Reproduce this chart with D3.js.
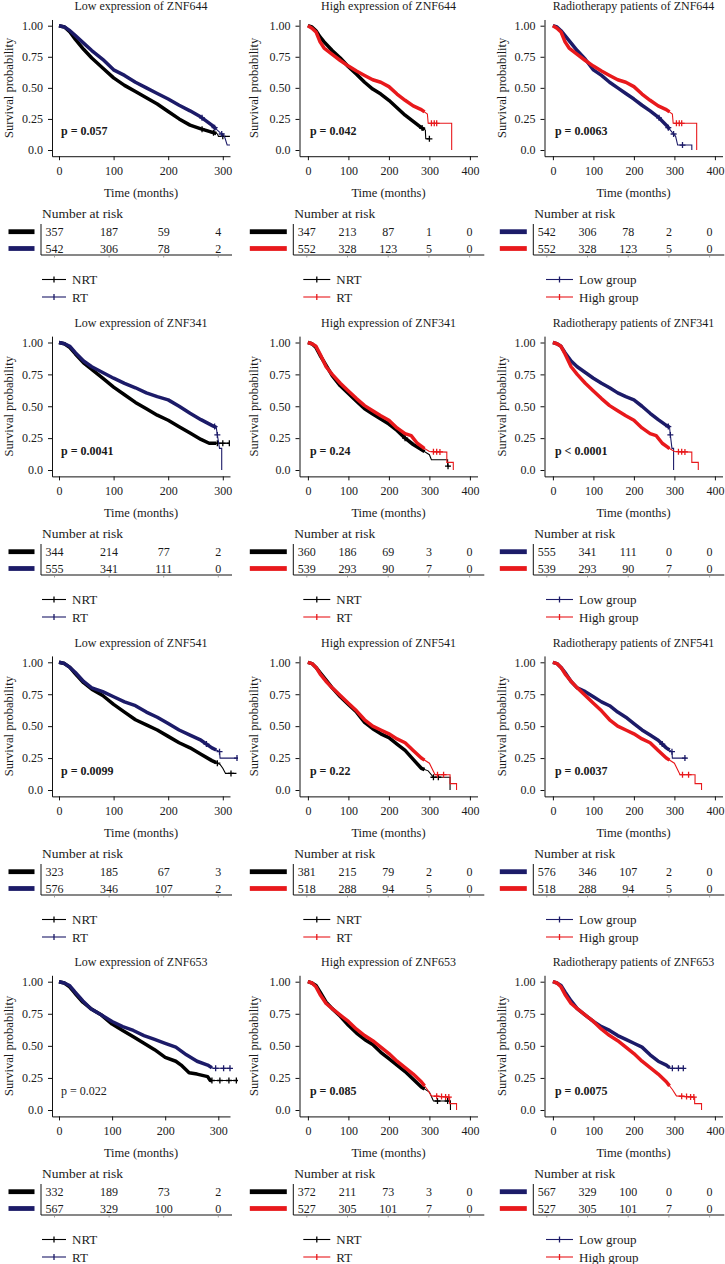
<!DOCTYPE html>
<html>
<head>
<meta charset="utf-8">
<script src="https://cdn.jsdelivr.net/npm/d3@7"></script>
<style>
  body { margin: 0; background: #fff; }
  svg text { font-family: "Liberation Serif", "Times New Roman", serif; fill: #1a1a1a; }
</style>
</head>
<body>
<svg id="chart" width="725" height="1264"></svg>
<script>
// ---- data ----
var genes = ["ZNF644", "ZNF341", "ZNF541", "ZNF653"];
var pLow = ["p = 0.057", "p = 0.0041", "p = 0.0099", "p = 0.022"];
var pHigh = ["p = 0.042", "p = 0.24", "p = 0.22", "p = 0.085"];
var pRadio = ["p = 0.0063", "p < 0.0001", "p = 0.0037", "p = 0.0075"];
var ticksLow = [0, 100, 200, 300];
var ticksWide = [0, 100, 200, 300, 400];

// ZNF644
var z644LowNRT = [[0,1],[10,0.99],[20,0.95],[30,0.89],[45,0.81],[60,0.74],[80,0.66],[100,0.58],[120,0.52],[140,0.47],[160,0.42],[180,0.37],[200,0.31],[220,0.25],[240,0.20],[260,0.17],[275,0.15],[290,0.13],[292,0.11],[313,0.11]];
var z644LowRT = [[0,1],[10,0.99],[20,0.96],[30,0.92],[45,0.86],[60,0.80],[80,0.73],[100,0.645],[120,0.60],[140,0.545],[160,0.50],[180,0.455],[200,0.41],[220,0.36],[240,0.315],[260,0.265],[280,0.20],[295,0.14],[303,0.11],[308,0.04],[343,0.04],[343,0]];
var z644HighNRT = [[0,1],[10,0.99],[20,0.96],[30,0.91],[40,0.87],[60,0.80],[80,0.74],[100,0.67],[120,0.61],[140,0.545],[160,0.49],[180,0.45],[200,0.40],[220,0.34],[240,0.28],[260,0.23],[280,0.18],[290,0.16],[291,0.09],[300,0.09]];
var z644HighRT = [[0,1],[10,0.98],[20,0.95],[30,0.87],[40,0.82],[60,0.77],[80,0.72],[100,0.675],[120,0.635],[140,0.60],[160,0.565],[180,0.545],[200,0.51],[220,0.45],[240,0.40],[260,0.355],[280,0.325],[295,0.29],[297,0.215],[355,0.215],[355,0]];
var c644LowNRT = [262, 283, 300], c644LowRT = [262, 285, 298, 320], c644HighNRT = [282, 300], c644HighRT = [305, 312, 318];

// ZNF341
var z341LowNRT = [[0,1],[10,0.99],[20,0.96],[30,0.91],[45,0.84],[60,0.79],[80,0.72],[100,0.65],[120,0.59],[140,0.53],[160,0.48],[180,0.43],[200,0.39],[220,0.34],[240,0.29],[260,0.24],[275,0.21],[313,0.21]];
var z341LowRT = [[0,1],[10,0.99],[20,0.97],[30,0.92],[45,0.855],[60,0.81],[80,0.765],[100,0.72],[120,0.68],[140,0.645],[160,0.605],[180,0.575],[200,0.55],[220,0.50],[240,0.445],[260,0.395],[280,0.35],[288,0.335],[290,0.275],[294,0.17],[298,0.17],[298,0]];
var z341HighNRT = [[0,1],[10,0.99],[20,0.96],[30,0.90],[45,0.82],[60,0.74],[80,0.66],[100,0.60],[120,0.54],[140,0.48],[160,0.44],[180,0.40],[200,0.36],[220,0.31],[240,0.25],[260,0.20],[280,0.16],[300,0.12],[305,0.08],[345,0.08],[345,0.03],[350,0.03]];
var z341HighRT = [[0,1],[10,0.99],[20,0.97],[30,0.91],[45,0.81],[60,0.75],[80,0.68],[100,0.62],[120,0.56],[140,0.505],[160,0.465],[180,0.425],[200,0.39],[220,0.33],[240,0.285],[255,0.27],[270,0.21],[285,0.175],[300,0.145],[343,0.14],[343,0.06],[359,0.06],[359,0]];
var c341LowNRT = [290, 300, 312], c341LowRT = [285, 290], c341HighNRT = [240, 346], c341HighRT = [310, 318, 326];

// ZNF541
var z541LowNRT = [[0,1],[10,0.99],[20,0.96],[30,0.91],[45,0.84],[60,0.79],[80,0.74],[100,0.67],[120,0.61],[140,0.55],[160,0.51],[180,0.47],[200,0.42],[220,0.37],[240,0.33],[260,0.28],[280,0.23],[295,0.20],[300,0.17],[305,0.13],[325,0.13]];
var z541LowRT = [[0,1],[10,0.99],[20,0.96],[30,0.92],[45,0.85],[60,0.80],[80,0.77],[100,0.73],[120,0.69],[140,0.66],[160,0.61],[180,0.57],[200,0.52],[220,0.47],[240,0.43],[260,0.39],[280,0.33],[294,0.30],[295,0.25],[330,0.25]];
var z541HighNRT = [[0,1],[10,0.99],[20,0.96],[30,0.92],[45,0.86],[60,0.80],[80,0.73],[100,0.67],[120,0.61],[140,0.53],[160,0.48],[180,0.44],[200,0.41],[220,0.36],[240,0.31],[260,0.24],[280,0.17],[297,0.15],[310,0.10],[351,0.10],[351,0]];
var z541HighRT = [[0,1],[10,0.99],[20,0.96],[30,0.91],[45,0.85],[60,0.80],[80,0.74],[100,0.68],[120,0.62],[140,0.55],[160,0.50],[180,0.47],[200,0.44],[220,0.40],[240,0.37],[260,0.31],[280,0.25],[300,0.21],[314,0.12],[351,0.12],[351,0.05],[367,0.05],[367,0]];
var c541LowNRT = [290, 315], c541LowRT = [270, 294, 326], c541HighNRT = [310, 322], c541HighRT = [320, 335];

// ZNF653
var z653LowNRT = [[0,1],[10,0.99],[20,0.96],[30,0.91],[45,0.84],[60,0.79],[80,0.74],[100,0.67],[120,0.62],[140,0.57],[160,0.52],[180,0.47],[200,0.41],[220,0.38],[230,0.35],[245,0.29],[260,0.28],[280,0.26],[285,0.23],[336,0.23]];
var z653LowRT = [[0,1],[10,0.99],[20,0.97],[30,0.92],[45,0.85],[60,0.79],[80,0.74],[100,0.69],[120,0.65],[140,0.62],[160,0.58],[180,0.55],[200,0.52],[220,0.49],[240,0.43],[260,0.38],[280,0.35],[290,0.325],[322,0.325]];
var z653HighNRT = [[0,1],[10,0.99],[20,0.97],[30,0.92],[45,0.84],[60,0.79],[80,0.73],[100,0.66],[120,0.60],[140,0.55],[160,0.51],[180,0.45],[200,0.40],[220,0.35],[240,0.30],[260,0.24],[280,0.18],[300,0.14],[310,0.07],[352,0.07],[352,0]];
var z653HighRT = [[0,1],[10,0.99],[20,0.96],[30,0.90],[45,0.83],[60,0.79],[80,0.74],[100,0.69],[120,0.63],[140,0.58],[160,0.54],[180,0.49],[200,0.44],[220,0.38],[240,0.33],[260,0.28],[280,0.22],[295,0.16],[305,0.11],[350,0.10],[350,0.05],[367,0.05],[367,0]];
var c653LowNRT = [288, 303, 320, 334], c653LowRT = [295, 310, 322], c653HighNRT = [320, 345], c653HighRT = [318, 330, 340, 348];

// number at risk
var r644LowNRT = [357, 187, 59, 4], r644LowRT = [542, 306, 78, 2, 0], r644HighNRT = [347, 213, 87, 1, 0], r644HighRT = [552, 328, 123, 5, 0];
var r341LowNRT = [344, 214, 77, 2], r341LowRT = [555, 341, 111, 0, 0], r341HighNRT = [360, 186, 69, 3, 0], r341HighRT = [539, 293, 90, 7, 0];
var r541LowNRT = [323, 185, 67, 3], r541LowRT = [576, 346, 107, 2, 0], r541HighNRT = [381, 215, 79, 2, 0], r541HighRT = [518, 288, 94, 5, 0];
var r653LowNRT = [332, 189, 73, 2], r653LowRT = [567, 329, 100, 0, 0], r653HighNRT = [372, 211, 73, 3, 0], r653HighRT = [527, 305, 101, 7, 0];

// ---- layout ----
var BLACK = "#000000", NAVY = "#1c1b68", RED = "#e8191c";
var rowTop = [25.7, 342.5, 662.3, 981.7];     // y of 1.00
var rowBot = [150, 470, 790, 1110];           // y of 0.0
var colX = [52, 299.5, 544.5];                // y-axis line
var plotW = 178;
var zeroOff = [7, 8.4, 8.4];
var col1Rate = [0.546, 0.546, 0.546, 0.531];  // px per month, left column
var col1Clip = [178, 178, 186, 186];          // how far the left-column curves run
var wideRate = 0.405;
var tableLine = [41, 293.3, 533.3];
var barW = [26, 37, 27];
var legX = [42, 303.3, 546];
var legW = [24, 27, 27];
var DENSE_END = 288;

var svg = d3.select("#chart");

var rows = [
  {lowNRT: z644LowNRT, lowRT: z644LowRT, highNRT: z644HighNRT, highRT: z644HighRT,
   cLowNRT: c644LowNRT, cLowRT: c644LowRT, cHighNRT: c644HighNRT, cHighRT: c644HighRT,
   rLowNRT: r644LowNRT, rLowRT: r644LowRT, rHighNRT: r644HighNRT, rHighRT: r644HighRT},
  {lowNRT: z341LowNRT, lowRT: z341LowRT, highNRT: z341HighNRT, highRT: z341HighRT,
   cLowNRT: c341LowNRT, cLowRT: c341LowRT, cHighNRT: c341HighNRT, cHighRT: c341HighRT,
   rLowNRT: r341LowNRT, rLowRT: r341LowRT, rHighNRT: r341HighNRT, rHighRT: r341HighRT},
  {lowNRT: z541LowNRT, lowRT: z541LowRT, highNRT: z541HighNRT, highRT: z541HighRT,
   cLowNRT: c541LowNRT, cLowRT: c541LowRT, cHighNRT: c541HighNRT, cHighRT: c541HighRT,
   rLowNRT: r541LowNRT, rLowRT: r541LowRT, rHighNRT: r541HighNRT, rHighRT: r541HighRT},
  {lowNRT: z653LowNRT, lowRT: z653LowRT, highNRT: z653HighNRT, highRT: z653HighRT,
   cLowNRT: c653LowNRT, cLowRT: c653LowRT, cHighNRT: c653HighNRT, cHighRT: c653HighRT,
   rLowNRT: r653LowNRT, rLowRT: r653LowRT, rHighNRT: r653HighNRT, rHighRT: r653HighRT}
];

// value of the drawn polyline at time t
function survAt(curve, t) {
  for (var i = curve.length - 1; i > 0; i--) {
    var a = curve[i - 1], b = curve[i];
    if (t >= a[0] && t <= b[0]) {
      if (b[0] === a[0]) return b[1];
      return a[1] + (b[1] - a[1]) * (t - a[0]) / (b[0] - a[0]);
    }
  }
  return curve[curve.length - 1][1];
}

// part of the curve where the censor marks sit so tight they read as a thick band
function denseRun(curve) {
  var out = [];
  for (var i = 0; i < curve.length; i++) {
    if (curve[i][0] > DENSE_END) break;
    if (i > 0 && curve[i][0] === curve[i - 1][0]) break;   // stop before a vertical drop
    out.push(curve[i]);
  }
  var last = out[out.length - 1];
  if (last[0] < DENSE_END && out.length < curve.length && curve[out.length][0] !== last[0]) {
    out.push([DENSE_END, survAt(curve, DENSE_END)]);
  }
  return out;
}

function drawPanel(row, col, title, pText, strata) {
  var y0 = rowBot[row], y1 = rowTop[row], h = y0 - y1;
  var rate = col === 0 ? col1Rate[row] : wideRate;
  var ax = colX[col];

  var x = d3.scaleLinear()
      .domain([-zeroOff[col] / rate, (plotW - zeroOff[col]) / rate])
      .range([ax, ax + plotW]);
  var y = d3.scaleLinear()
      .domain([-0.05, 1.05])
      .range([y0 + 0.05 * h, y1 - 0.05 * h]);

  var g = svg.append("g");

  g.append("text")
      .attr("x", ax + 89).attr("y", y1 - 19.5)
      .attr("text-anchor", "middle").attr("dominant-baseline", "central")
      .attr("font-size", 12).text(title);

  var xa = g.append("g")
      .attr("transform", "translate(0," + y(-0.05) + ")")
      .call(d3.axisBottom(x).tickValues(col === 0 ? ticksLow : ticksWide)
        .tickSize(4).tickSizeOuter(0).tickPadding(6));
  var ya = g.append("g")
      .attr("transform", "translate(" + ax + ",0)")
      .call(d3.axisLeft(y).tickValues([0, 0.25, 0.5, 0.75, 1])
        .tickFormat(function(d) { return d === 0 ? "0.0" : d3.format(".2f")(d); })
        .tickSize(4).tickSizeOuter(0).tickPadding(5));
  [xa, ya].forEach(function(a) {
    a.attr("font-size", 12).attr("font-family", null);
    a.selectAll("path, line").attr("stroke", "#111");
    a.selectAll("text").attr("fill", "#222");
  });

  g.append("text")
      .attr("transform", "translate(" + (ax - (col === 1 ? 46 : 43)) + "," + ((y0 + y1) / 2) + ") rotate(-90)")
      .attr("text-anchor", "middle").attr("dominant-baseline", "central")
      .attr("font-size", 12.5).text("Survival probability");

  g.append("text")
      .attr("x", ax + 89).attr("y", y0 + 43)
      .attr("text-anchor", "middle").attr("dominant-baseline", "central")
      .attr("font-size", 12.5).text("Time (months)");

  // curves
  var clipId = "clip" + row + "_" + col;
  g.append("clipPath").attr("id", clipId).append("rect")
      .attr("x", ax - 10).attr("y", y1 - 20)
      .attr("width", (col === 0 ? col1Clip[row] : 200) + 10).attr("height", h + 40);
  var cg = g.append("g").attr("clip-path", "url(#" + clipId + ")");
  var line = d3.line().x(function(d) { return x(d[0]); }).y(function(d) { return y(d[1]); });

  strata.forEach(function(s) {
    cg.append("path").datum(s.curve).attr("d", line)
        .attr("fill", "none").attr("stroke", s.color).attr("stroke-width", 1.1);
    cg.append("path").datum(denseRun(s.curve))
        .attr("d", line)
        .attr("fill", "none").attr("stroke", s.color).attr("stroke-width", 3.5)
        .attr("stroke-linejoin", "round");
    cg.selectAll(null).data(s.cens).enter().append("path")
        .attr("d", function(t) {
          var px = x(t), py = y(survAt(s.curve, t));
          return "M" + (px - 3) + "," + py + "H" + (px + 3) + "M" + px + "," + (py - 3) + "V" + (py + 3);
        })
        .attr("stroke", s.color).attr("stroke-width", 1.3);
  });

  // p-value (the low ZNF653 panel prints it in regular weight)
  g.append("text")
      .attr("x", x(0) + 2).attr("y", y(0.15))
      .attr("dominant-baseline", "central")
      .attr("font-size", 12)
      .attr("font-weight", (row === 3 && col === 0) ? "normal" : "bold")
      .text(pText);

  // number at risk table
  var tl = tableLine[col];
  var times = col === 0 ? ticksLow : ticksWide;
  var tx = d3.scaleLinear().domain([0, 100]).range([tl + 13.5, tl + 13.5 + 100 * (col === 0 ? 0.546 : 0.407)]);
  g.append("text")
      .attr("x", tl + 1).attr("y", y0 + 63.5)
      .attr("dominant-baseline", "central")
      .attr("font-size", 13.5).text("Number at risk");
  var rowY = [y0 + 81.7, y0 + 98.5];
  strata.forEach(function(s, i) {
    g.append("rect")
        .attr("x", tl - 6.5 - barW[col]).attr("y", rowY[i] - 2.4)
        .attr("width", barW[col]).attr("height", 4.8)
        .attr("fill", s.color);
    g.selectAll(null).data(times).enter().append("text")
        .attr("x", function(t) { return tx(t); }).attr("y", rowY[i])
        .attr("text-anchor", "middle").attr("dominant-baseline", "central")
        .attr("font-size", 12)
        .text(function(t, j) { return s.risk[j]; });
  });
  g.append("line")
      .attr("x1", tl).attr("x2", tl).attr("y1", y0 + 74).attr("y2", y0 + 105)
      .attr("stroke", "#111").attr("stroke-width", 1);
  g.append("line")
      .attr("x1", tl).attr("x2", Math.min(tl + 191, 725)).attr("y1", y0 + 105).attr("y2", y0 + 105)
      .attr("stroke", "#111").attr("stroke-width", 1);
  g.selectAll(null).data(times).enter().append("line")
      .attr("x1", function(t) { return tx(t); }).attr("x2", function(t) { return tx(t); })
      .attr("y1", y0 + 105).attr("y2", y0 + 107.5)
      .attr("stroke", "#888").attr("stroke-width", 0.8);

  // legend
  var legY = [y0 + 129.5, y0 + 147];
  strata.forEach(function(s, i) {
    var lx = legX[col], lw = legW[col];
    g.append("line")
        .attr("x1", lx).attr("x2", lx + lw).attr("y1", legY[i]).attr("y2", legY[i])
        .attr("stroke", s.color).attr("stroke-width", 1.1);
    g.append("line")
        .attr("x1", lx + lw / 2).attr("x2", lx + lw / 2).attr("y1", legY[i] - 3).attr("y2", legY[i] + 3)
        .attr("stroke", s.color).attr("stroke-width", 1.3);
    g.append("text")
        .attr("x", lx + lw + 6).attr("y", legY[i])
        .attr("dominant-baseline", "central")
        .attr("font-size", 13).text(s.name);
  });
}

rows.forEach(function(r, i) {
  var gene = genes[i];
  drawPanel(i, 0, "Low expression of " + gene, pLow[i], [
    {name: "NRT", color: BLACK, curve: r.lowNRT, cens: r.cLowNRT, risk: r.rLowNRT},
    {name: "RT", color: NAVY, curve: r.lowRT, cens: r.cLowRT, risk: r.rLowRT}
  ]);
  drawPanel(i, 1, "High expression of " + gene, pHigh[i], [
    {name: "NRT", color: BLACK, curve: r.highNRT, cens: r.cHighNRT, risk: r.rHighNRT},
    {name: "RT", color: RED, curve: r.highRT, cens: r.cHighRT, risk: r.rHighRT}
  ]);
  drawPanel(i, 2, "Radiotherapy patients of " + gene, pRadio[i], [
    {name: "Low group", color: NAVY, curve: r.lowRT, cens: r.cLowRT, risk: r.rLowRT},
    {name: "High group", color: RED, curve: r.highRT, cens: r.cHighRT, risk: r.rHighRT}
  ]);
});
</script>
</body>
</html>
